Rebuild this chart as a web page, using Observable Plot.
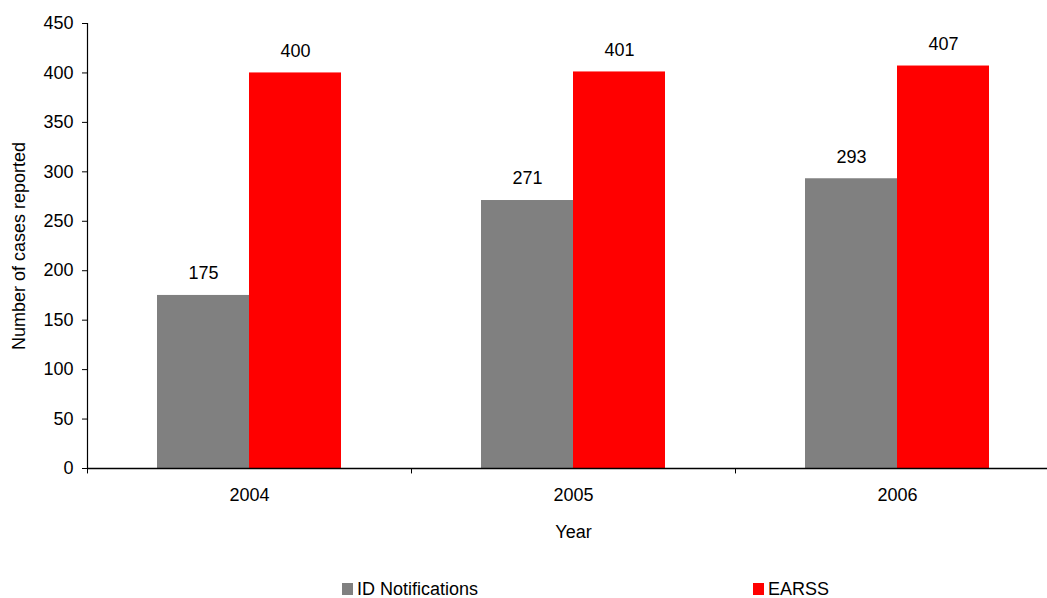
<!DOCTYPE html>
<html>
<head>
<meta charset="utf-8">
<script src="https://cdn.jsdelivr.net/npm/d3@7"></script>
<script src="https://cdn.jsdelivr.net/npm/@observablehq/plot@0.6"></script>
<style>
  html, body { margin: 0; padding: 0; background: #fff; overflow: hidden; width: 1047px; height: 598px; }
  body { font-family: "Liberation Sans", Arial, sans-serif; }
  #legend { position: relative; height: 50px; font-size: 18px; color: #000; }
  .item { position: absolute; top: 31px; height: 20px; line-height: 20px; display: flex; align-items: center; }
  .sw { width: 11px; height: 12px; margin-right: 4px; }
</style>
</head>
<body>
<div id="chart"></div>
<div id="legend"></div>
<script>
const years = ["2004", "2005", "2006"];
const seriesNames = ["ID Notifications", "EARSS"];
const idNotifications = [175, 271, 293];
const earss = [400, 401, 407];
const seriesColors = ["#808080", "#ff0000"];
const yTicks = [0, 50, 100, 150, 200, 250, 300, 350, 400, 450];

const W = 1047, H = 548;
const mL = 87, mR = -12, mT = 23, mB = 80;
const step = (W - mL - mR) / years.length;
const half = step / 2;
const barW = 92;
const FS = 18;

const rows = years.flatMap((yr, i) => [
  {year: yr, series: seriesNames[0], value: idNotifications[i]},
  {year: yr, series: seriesNames[1], value: earss[i]}
]);
const rowsA = rows.filter(d => d.series === seriesNames[0]);
const rowsB = rows.filter(d => d.series === seriesNames[1]);

const chart = Plot.plot({
  width: W,
  height: H,
  marginLeft: mL,
  marginRight: mR,
  marginTop: mT,
  marginBottom: mB,
  style: {fontFamily: "Liberation Sans, Arial, sans-serif", fontSize: FS + "px", color: "#000", background: "#fff", overflow: "visible"},
  x: {domain: years, padding: 0, label: null},
  y: {domain: [0, 450], label: null},
  marks: [
    Plot.barY(rowsA, {x: "year", y: "value", fill: seriesColors[0], insetLeft: half - barW, insetRight: half}),
    Plot.barY(rowsB, {x: "year", y: "value", fill: seriesColors[1], insetLeft: half, insetRight: half - barW}),
    Plot.text(rowsA, {x: "year", y: "value", text: d => String(d.value), dx: -barW / 2, dy: -22, lineAnchor: "middle", fontSize: FS}),
    Plot.text(rowsB, {x: "year", y: "value", text: d => String(d.value), dx: barW / 2, dy: -22, lineAnchor: "middle", fontSize: FS}),
    Plot.axisY({ticks: yTicks, tickSize: 5, tickPadding: 9, fontSize: FS, label: null}),
    Plot.axisX({tickSize: 0, tickPadding: 20, fontSize: FS, label: null}),
    Plot.ruleY([0], {stroke: "#000", strokeWidth: 1.5}),
    Plot.ruleX([years[0]], {x: d => d, dx: -half, stroke: "#000", strokeWidth: 1.2}),
    Plot.ruleX(years, {x: d => d, dx: -half, y1: 0, y2: -5.5, stroke: "#000"}),
    Plot.text(["Year"], {frameAnchor: "bottom", dy: 64, lineAnchor: "middle", text: d => d, fontSize: FS}),
    Plot.text(["Number of cases reported"], {frameAnchor: "left", dx: -68, rotate: -90, textAnchor: "middle", lineAnchor: "middle", text: d => d, fontSize: FS})
  ]
});
document.getElementById("chart").appendChild(chart);

const legend = document.getElementById("legend");
const legendX = [342, 753];
seriesNames.forEach((name, i) => {
  const it = document.createElement("div");
  it.className = "item";
  it.style.left = legendX[i] + "px";
  const sw = document.createElement("span");
  sw.className = "sw";
  sw.style.background = seriesColors[i];
  const tx = document.createElement("span");
  tx.textContent = name;
  it.appendChild(sw);
  it.appendChild(tx);
  legend.appendChild(it);
});
</script>
</body>
</html>
